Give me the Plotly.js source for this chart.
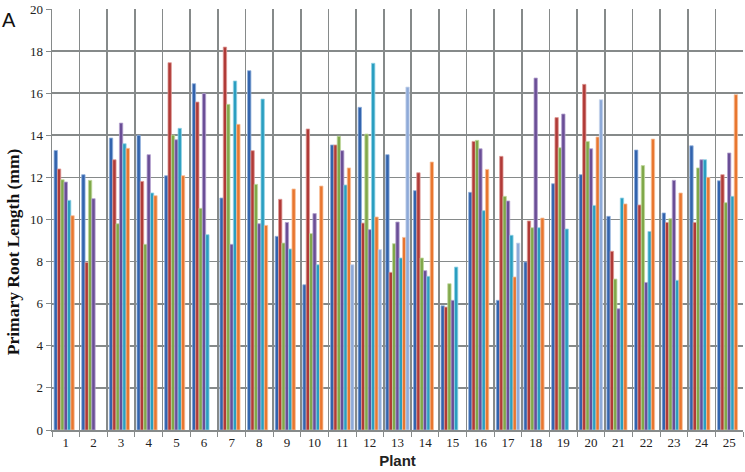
<!DOCTYPE html>
<html>
<head>
<meta charset="utf-8">
<script src="https://cdn.plot.ly/plotly-3.0.1.min.js"></script>
<style>html,body{margin:0;padding:0;background:#fff;}#chart{width:745px;height:472px;}</style>
</head>
<body>
<div id="chart"></div>
<script>
const plants = ["1","2","3","4","5","6","7","8","9","10","11","12","13","14","15","16","17","18","19","20","21","22","23","24","25"];
const s1 = [13.28,12.13,13.87,14.0,12.08,16.45,11.02,17.07,9.2,6.9,13.54,15.33,13.08,11.37,5.9,11.29,6.16,7.98,11.7,12.13,10.15,13.3,10.31,13.5,11.84];
const s2 = [12.4,7.96,12.84,11.81,17.45,15.58,18.19,13.27,10.96,14.3,13.54,9.83,7.49,12.22,5.84,13.71,13.0,9.93,14.84,16.42,8.49,10.69,9.86,9.86,12.13];
const s3 = [11.89,11.86,9.8,8.82,14.01,10.53,15.47,11.67,8.88,9.33,13.95,14.06,8.85,8.17,6.95,13.76,11.1,9.61,13.41,13.71,7.17,12.56,10.04,12.45,10.8];
const s4 = [11.78,10.99,14.58,13.08,13.79,15.98,8.82,9.8,9.86,10.28,13.27,9.52,9.88,7.57,6.16,13.36,10.88,16.72,15.01,13.36,5.76,7.01,11.86,12.84,13.16];
const s5 = [10.91,null,13.6,11.26,14.33,9.28,16.58,15.72,8.6,7.85,11.64,17.42,8.17,7.3,7.74,10.42,9.25,9.61,9.55,10.67,11.02,9.43,7.11,12.84,11.1];
const s6 = [10.18,null,13.38,11.13,12.08,null,14.52,9.72,11.45,11.59,12.45,10.12,9.15,12.73,null,12.38,7.27,10.07,null,13.92,10.74,13.82,11.26,12.0,15.93];
const s7 = [null,null,null,null,null,null,null,null,null,null,7.85,8.57,16.29,null,null,null,8.88,null,null,15.69,null,null,null,null,null];

const series = [s1,s2,s3,s4,s5,s6,s7];
const fills = ["#3263ad","#b03a37","#80a84a","#6a4e96","#2a9ec0","#e8762f","#8eaad8"];
const edges = ["#8fb0dc","#e09a97","#c2d9a0","#b5a3cf","#92d2e4","#f8c09a","#c9d7ee"];

const traces = series.map((s,i)=>({
  type:"bar", x:plants, y:s, name:"S"+(i+1),
  marker:{color:fills[i], line:{color:edges[i], width:0.8}},
  hoverinfo:"y"
}));

const serif = "Liberation Serif, Times New Roman, serif";
const layout = {
  width:745, height:472,
  margin:{l:52, r:2, t:9, b:42},
  paper_bgcolor:"#fff", plot_bgcolor:"#fff",
  showlegend:false,
  barmode:"group", bargap:0.15, bargroupgap:0,
  xaxis:{
    type:"category", tickson:"boundaries",
    showgrid:true, gridcolor:"#868a8a", gridwidth:1.7,
    showline:true, linecolor:"#868a8a", linewidth:1.5,
    ticks:"outside", ticklen:5, tickcolor:"#868a8a",
    tickfont:{family:serif, size:13, color:"#222"},
    title:{text:"<b>Plant</b>", font:{family:"Liberation Sans, Arial, sans-serif", size:15, color:"#222"}, standoff:6},
    fixedrange:true
  },
  yaxis:{
    range:[0,20], dtick:2, tick0:0,
    showgrid:true, gridcolor:"#868a8a", gridwidth:1.7,
    zeroline:false,
    showline:true, linecolor:"#868a8a", linewidth:1.5,
    ticks:"outside", ticklen:5, tickcolor:"#868a8a",
    tickfont:{family:serif, size:13, color:"#222"},
    fixedrange:true
  },
  annotations:[{
    text:"A", xref:"paper", yref:"paper", x:-0.075, y:1.005, xanchor:"left", yanchor:"top",
    showarrow:false, font:{family:"Liberation Sans, Arial, sans-serif", size:20, color:"#111"}
  },{
    text:"<b>Primary Root Length (mm)</b>", xref:"paper", yref:"paper",
    x:-0.0745, y:0.4235, xanchor:"left", yanchor:"middle", textangle:-90,
    showarrow:false, font:{family:serif, size:17.5, color:"#111"}
  }]
};

Plotly.newPlot("chart", traces, layout, {displayModeBar:false, staticPlot:true});
</script>
</body>
</html>
